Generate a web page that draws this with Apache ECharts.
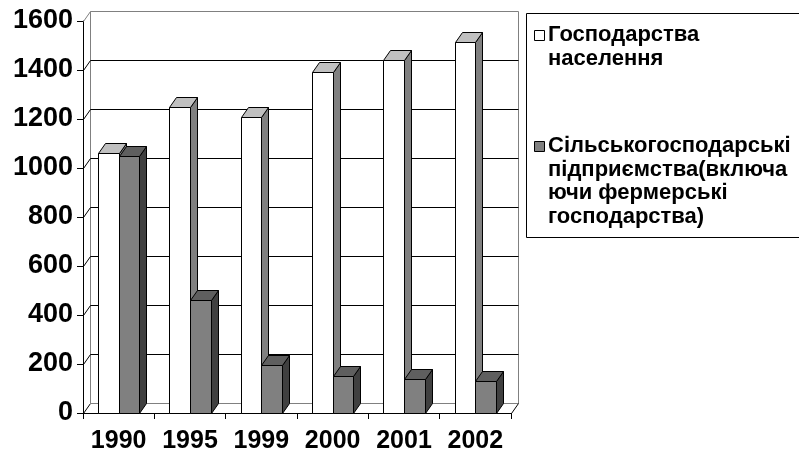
<!DOCTYPE html>
<html><head><meta charset="utf-8">
<script src="https://cdn.jsdelivr.net/npm/echarts@6/dist/echarts.min.js"></script>
<style>html,body{margin:0;padding:0;background:#fff}#c{width:799px;height:451px}</style>
</head><body><div id="c"></div>
<script>
// ---- data ----
const categories = ['1990', '1995', '1999', '2000', '2001', '2002'];
const households = [1060, 1250, 1210, 1390, 1440, 1515];
const enterprises = [1050, 460, 195, 150, 140, 130];
const seriesNames = ['Господарства населення', 'Сільськогосподарські підприємства(включаючи фермерські господарства)'];
const legendLines = [
  ['Господарства', 'населення'],
  ['Сільськогосподарські', 'підприємства(включа', 'ючи фермерські', 'господарства)']
];
const yTicks = [0, 200, 400, 600, 800, 1000, 1200, 1400, 1600];

// ---- styling ----
const DX = 7, DY = -10;
const FONT = "'Liberation Sans', Arial, sans-serif";
const snap = v => Math.round(v) + 0.5;

function bar3d(side, colors) {
  return function (params, api) {
    const idx = api.value(0), v = api.value(1);
    const top = api.coord([idx, v]);
    const base = api.coord([idx, 0]);
    const band = api.size([1, 0])[0];
    const w = band * 0.29;
    let x0 = side < 0 ? top[0] - w : top[0];
    let x1 = x0 + w;
    x0 = snap(x0); x1 = snap(x1);
    const yT = snap(top[1]), yB = snap(base[1]);
    const st = (f) => ({ fill: f, stroke: '#000', lineWidth: 1 });
    return {
      type: 'group', children: [
        { type: 'polygon', shape: { points: [[x1, yB], [x1 + DX, yB + DY], [x1 + DX, yT + DY], [x1, yT]] }, style: st(colors.side) },
        { type: 'polygon', shape: { points: [[x0, yT], [x0 + DX, yT + DY], [x1 + DX, yT + DY], [x1, yT]] }, style: st(colors.top) },
        { type: 'rect', shape: { x: x0, y: yT, width: x1 - x0, height: yB - yT }, style: st(colors.front) }
      ]
    };
  };
}

function walls(params, api) {
  const v = api.value(0);
  const cs = params.coordSys;
  const y = snap(api.coord([0, v])[1]);
  const xL = snap(cs.x), xR = snap(cs.x + cs.width);
  const last = v === yTicks[yTicks.length - 1];
  const first = v === yTicks[0];
  const backColor = (first || last) ? '#808080' : '#000';
  const children = [
    { type: 'line', shape: { x1: xL, y1: y, x2: xL + DX, y2: y + DY }, style: { stroke: last ? '#808080' : '#000', lineWidth: 1 } },
    { type: 'line', shape: { x1: xL + DX, y1: y + DY, x2: xR + DX, y2: y + DY }, style: { stroke: backColor, lineWidth: 1 } }
  ];
  if (first) {
    const yTop = snap(api.coord([0, yTicks[yTicks.length - 1]])[1]);
    children.push(
      { type: 'line', shape: { x1: xL + DX, y1: yTop + DY, x2: xL + DX, y2: y + DY }, style: { stroke: '#808080', lineWidth: 1 } },
      { type: 'line', shape: { x1: xR + DX, y1: yTop + DY, x2: xR + DX, y2: y + DY }, style: { stroke: '#808080', lineWidth: 1 } },
      { type: 'line', shape: { x1: xR, y1: y, x2: xR + DX, y2: y + DY }, style: { stroke: '#000', lineWidth: 1 } }
    );
  }
  return { type: 'group', children };
}

const chart = echarts.init(document.getElementById('c'), null, { renderer: 'canvas' });

const LX = 526.5, LY = 13.5, LH = 23.5;
const LFONT = 'bold 22px ' + FONT;
const legendGraphic = [
  { type: 'rect', shape: { x: LX, y: LY, width: 300, height: 224 }, style: { fill: '#fff', stroke: '#000', lineWidth: 1 } },
  { type: 'rect', shape: { x: 534.5, y: 30.5, width: 10, height: 10 }, style: { fill: '#fff', stroke: '#000', lineWidth: 1 } },
  { type: 'text', x: 548, y: 35 - LH / 2, style: { text: legendLines[0].join('\n'), font: LFONT, lineHeight: LH, fill: '#000', verticalAlign: 'top' } },
  { type: 'rect', shape: { x: 534.5, y: 141.5, width: 10, height: 10 }, style: { fill: '#808080', stroke: '#000', lineWidth: 1 } },
  { type: 'text', x: 548, y: 146 - LH / 2, style: { text: legendLines[1].join('\n'), font: LFONT, lineHeight: LH, fill: '#000', verticalAlign: 'top' } }
];

chart.setOption({
  animation: false,
  backgroundColor: '#fff',
  grid: { left: 83, right: 288, top: 21, bottom: 38, containLabel: false, outerBoundsMode: 'none' },
  xAxis: {
    type: 'category', data: categories, boundaryGap: true,
    axisLine: { lineStyle: { color: '#000', width: 1 } },
    axisTick: { show: true, length: 6, interval: 0, lineStyle: { color: '#000' } },
    axisLabel: { color: '#000', fontFamily: FONT, fontWeight: 'bold', fontSize: 25, margin: 16, interval: 0, hideOverlap: false },
    splitLine: { show: false }
  },
  yAxis: {
    type: 'value', min: 0, max: 1600, interval: 200,
    axisLine: { show: true, lineStyle: { color: '#000', width: 1 } },
    axisTick: { show: true, length: 6, lineStyle: { color: '#000' } },
    axisLabel: { color: '#000', fontFamily: FONT, fontWeight: 'bold', fontSize: 27, margin: 10, formatter: v => String(v) },
    splitLine: { show: false }
  },
  graphic: legendGraphic,
  series: [
    {
      type: 'custom', name: 'walls', z: 1, silent: true,
      data: yTicks.map(v => [v]), encode: { y: 0 },
      renderItem: walls
    },
    {
      type: 'custom', name: seriesNames[0], z: 2,
      data: categories.map((c, i) => [i, households[i]]), encode: { x: 0, y: 1 },
      renderItem: bar3d(-1, { front: '#ffffff', top: '#c0c0c0', side: '#808080' })
    },
    {
      type: 'custom', name: seriesNames[1], z: 3,
      data: categories.map((c, i) => [i, enterprises[i]]), encode: { x: 0, y: 1 },
      renderItem: bar3d(1, { front: '#808080', top: '#5f5f5f', side: '#404040' })
    }
  ]
});
</script>
</body></html>
